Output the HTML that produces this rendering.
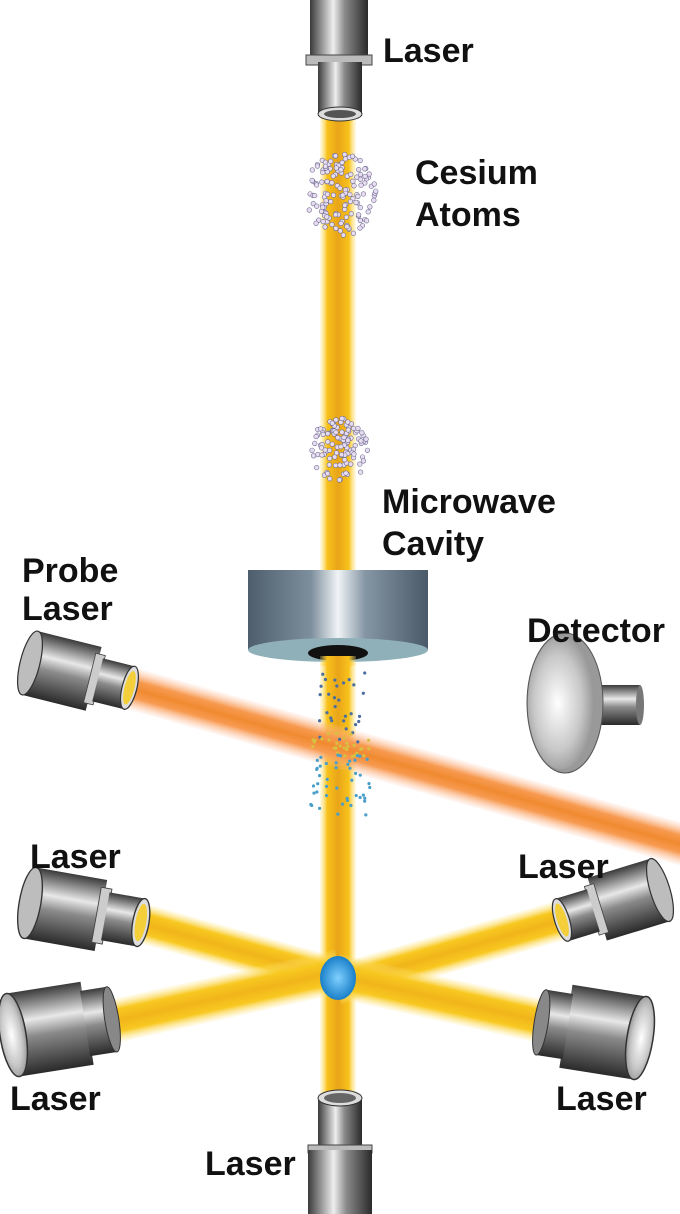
<!DOCTYPE html>
<html><head><meta charset="utf-8"><style>
html,body{margin:0;padding:0;background:#fff;}
svg{display:block;}
text{font-family:"Liberation Sans",sans-serif;font-weight:bold;fill:#111;font-size:34px;}
</style></head><body>
<svg id="s" width="680" height="1214" viewBox="0 0 680 1214" xmlns="http://www.w3.org/2000/svg">
<defs>
<linearGradient id="vb" x1="0" x2="1" y1="0" y2="0">
<stop offset="0" stop-color="#ffe680" stop-opacity="0.2"/><stop offset="0.2" stop-color="#f8c21a"/><stop offset="0.5" stop-color="#e9a51a"/><stop offset="0.8" stop-color="#f8c21a"/><stop offset="1" stop-color="#ffe680" stop-opacity="0.2"/>
</linearGradient>
<linearGradient id="hb" x1="0" x2="0" y1="0" y2="1">
<stop offset="0" stop-color="#ffe680" stop-opacity="0.1"/><stop offset="0.25" stop-color="#f8c820"/><stop offset="0.5" stop-color="#f1b51a"/><stop offset="0.75" stop-color="#f8c820"/><stop offset="1" stop-color="#ffe680" stop-opacity="0.1"/>
</linearGradient>
<linearGradient id="pb" x1="0" x2="0" y1="0" y2="1">
<stop offset="0" stop-color="#ffc0a0" stop-opacity="0.1"/><stop offset="0.3" stop-color="#f79a50"/><stop offset="0.5" stop-color="#f08a30"/><stop offset="0.7" stop-color="#f79a50"/><stop offset="1" stop-color="#ffc0a0" stop-opacity="0.1"/>
</linearGradient>
<linearGradient id="mh" x1="0" x2="0" y1="0" y2="1">
<stop offset="0" stop-color="#3a3a3a"/><stop offset="0.35" stop-color="#e8e8e8"/><stop offset="0.55" stop-color="#8a8a8a"/><stop offset="1" stop-color="#2a2a2a"/>
</linearGradient>
<linearGradient id="mv" x1="0" x2="1" y1="0" y2="0">
<stop offset="0" stop-color="#3a3a3a"/><stop offset="0.4" stop-color="#eeeeee"/><stop offset="0.6" stop-color="#8a8a8a"/><stop offset="1" stop-color="#2a2a2a"/>
</linearGradient>
<linearGradient id="cav" x1="0" x2="1" y1="0" y2="0">
<stop offset="0" stop-color="#4e5e6c"/><stop offset="0.35" stop-color="#7d8e9c"/><stop offset="0.5" stop-color="#f0f4f6"/><stop offset="0.65" stop-color="#8596a4"/><stop offset="1" stop-color="#4a5968"/>
</linearGradient>
<radialGradient id="dish" cx="0.45" cy="0.5" r="0.6">
<stop offset="0" stop-color="#ffffff"/><stop offset="0.6" stop-color="#c8c8c8"/><stop offset="1" stop-color="#8a8a8a"/>
</radialGradient>
<radialGradient id="ball" cx="0.5" cy="0.5" r="0.5">
<stop offset="0" stop-color="#7fd0ff"/><stop offset="1" stop-color="#1a7fc8"/>
</radialGradient>
<g id="hlaser">
<rect x="0" y="-40" width="80" height="80" fill="url(#mh)"/>
<ellipse cx="0" cy="0" rx="12" ry="40" fill="#bdbdbd" stroke="#333" stroke-width="1.5"/>
<rect x="75" y="-31" width="12" height="62" fill="#ccc" stroke="#444"/>
<rect x="85" y="-27" width="40" height="54" fill="url(#mh)"/>
<ellipse cx="125" cy="0" rx="9" ry="27" fill="#ddd" stroke="#333" stroke-width="1.5"/>
<ellipse cx="125" cy="0" rx="6" ry="21" fill="#f4cf3a"/>
</g>
<g id="blaser">
<rect x="0" y="-42" width="75" height="84" fill="url(#mh)"/>
<ellipse cx="0" cy="0" rx="13" ry="42" fill="url(#dish)" stroke="#333" stroke-width="1.5"/>
<rect x="73" y="-33" width="27" height="66" fill="url(#mh)"/>
<ellipse cx="100" cy="0" rx="7" ry="33" fill="#888" stroke="#333"/>
</g>
</defs>

<rect x="320" y="110" width="36" height="1000" fill="url(#vb)"/>
<g transform="translate(141,923) rotate(15.6)"><rect x="0" y="-20" width="210" height="40" fill="url(#hb)"/></g>
<g transform="translate(110,1022) rotate(-12.5)"><rect x="0" y="-22" width="235" height="44" fill="url(#hb)"/></g>
<g transform="translate(562,920) rotate(164)"><rect x="0" y="-20" width="235" height="40" fill="url(#hb)"/></g>
<g transform="translate(545,1022) rotate(192.5)"><rect x="0" y="-22" width="215" height="44" fill="url(#hb)"/></g>

<rect x="248" y="570" width="180" height="80" fill="url(#cav)"/>
<ellipse cx="338" cy="650" rx="90" ry="12" fill="#8fb0b8"/>
<ellipse cx="338" cy="653" rx="30" ry="8" fill="#111"/>
<rect x="320" y="656" width="36" height="10" fill="url(#vb)"/>

<g transform="translate(126,687) rotate(15.8)"><rect x="0" y="-21" width="600" height="42" fill="url(#pb)"/></g>

<rect x="595" y="685" width="45" height="40" fill="url(#mh)"/>
<ellipse cx="640" cy="705" rx="4" ry="20" fill="#777"/>
<ellipse cx="565" cy="703" rx="38" ry="70" fill="#999" stroke="#555"/>
<ellipse cx="561" cy="703" rx="33" ry="66" fill="url(#dish)"/>

<rect x="310" y="0" width="58" height="60" fill="url(#mv)"/>
<rect x="306" y="55" width="66" height="10" fill="#bbb" stroke="#444"/>
<rect x="318" y="62" width="44" height="52" fill="url(#mv)"/>
<ellipse cx="340" cy="114" rx="22" ry="7" fill="#ddd" stroke="#333"/>
<ellipse cx="340" cy="114" rx="16" ry="4" fill="#555"/>

<rect x="318" y="1098" width="44" height="50" fill="url(#mv)"/>
<ellipse cx="340" cy="1098" rx="22" ry="8" fill="#ddd" stroke="#333"/>
<ellipse cx="340" cy="1098" rx="16" ry="5" fill="#666"/>
<rect x="308" y="1145" width="64" height="8" fill="#bbb" stroke="#444"/>
<rect x="308" y="1150" width="64" height="64" fill="url(#mv)"/>

<use href="#hlaser" transform="translate(30,903) rotate(10) scale(0.9)"/>
<use href="#hlaser" transform="translate(660,890) scale(-1,1) rotate(17) scale(0.82)"/>
<use href="#blaser" transform="translate(13,1035) rotate(-9)"/>
<use href="#blaser" transform="translate(640,1038) scale(-1,1) rotate(-9)"/>
<use href="#hlaser" transform="translate(30,663) rotate(14) scale(0.82)"/>

<ellipse cx="338" cy="978" rx="18" ry="22" fill="url(#ball)"/>

<g id="dots"></g>

<text x="383" y="62">Laser</text>
<text x="415" y="184">Cesium</text>
<text x="415" y="226">Atoms</text>
<text x="382" y="513">Microwave</text>
<text x="382" y="555">Cavity</text>
<text x="22" y="582">Probe</text>
<text x="22" y="620">Laser</text>
<text x="527" y="642">Detector</text>
<text x="30" y="868">Laser</text>
<text x="518" y="878">Laser</text>
<text x="10" y="1110">Laser</text>
<text x="556" y="1110">Laser</text>
<text x="205" y="1175">Laser</text>
</svg>
<script>
(function(){
var g=document.getElementById('dots'),ns='http://www.w3.org/2000/svg',seed=7;
function r(){seed=(seed*16807)%2147483647;return seed/2147483647;}
function cloud(cx,cy,rx,ry,n,fill,rad){
for(var i=0;i<n;i++){var a=r()*6.283,d=Math.sqrt(r());
var c=document.createElementNS(ns,'circle');
c.setAttribute('cx',cx+Math.cos(a)*d*rx);c.setAttribute('cy',cy+Math.sin(a)*d*ry);
c.setAttribute('r',rad);c.setAttribute('fill',fill);c.setAttribute('stroke','#6a6a90');c.setAttribute('stroke-width','0.6');g.appendChild(c);}
}
cloud(340,195,36,42,140,'#e8dcf0',2.3);
cloud(340,450,30,32,110,'#e8dcf0',2.3);
function sp(cx,cy,rx,ry,n,fill){for(var i=0;i<n;i++){var c=document.createElementNS(ns,'circle');
c.setAttribute('cx',cx+(r()*2-1)*rx);c.setAttribute('cy',cy+(r()*2-1)*ry);c.setAttribute('r',1.6);c.setAttribute('fill',fill);g.appendChild(c);}}
sp(340,710,25,40,30,'#4a6fa0');
sp(340,745,30,12,30,'#d8c040');
sp(340,785,30,30,45,'#4a9fc8');
})();
</script>
</body></html>
